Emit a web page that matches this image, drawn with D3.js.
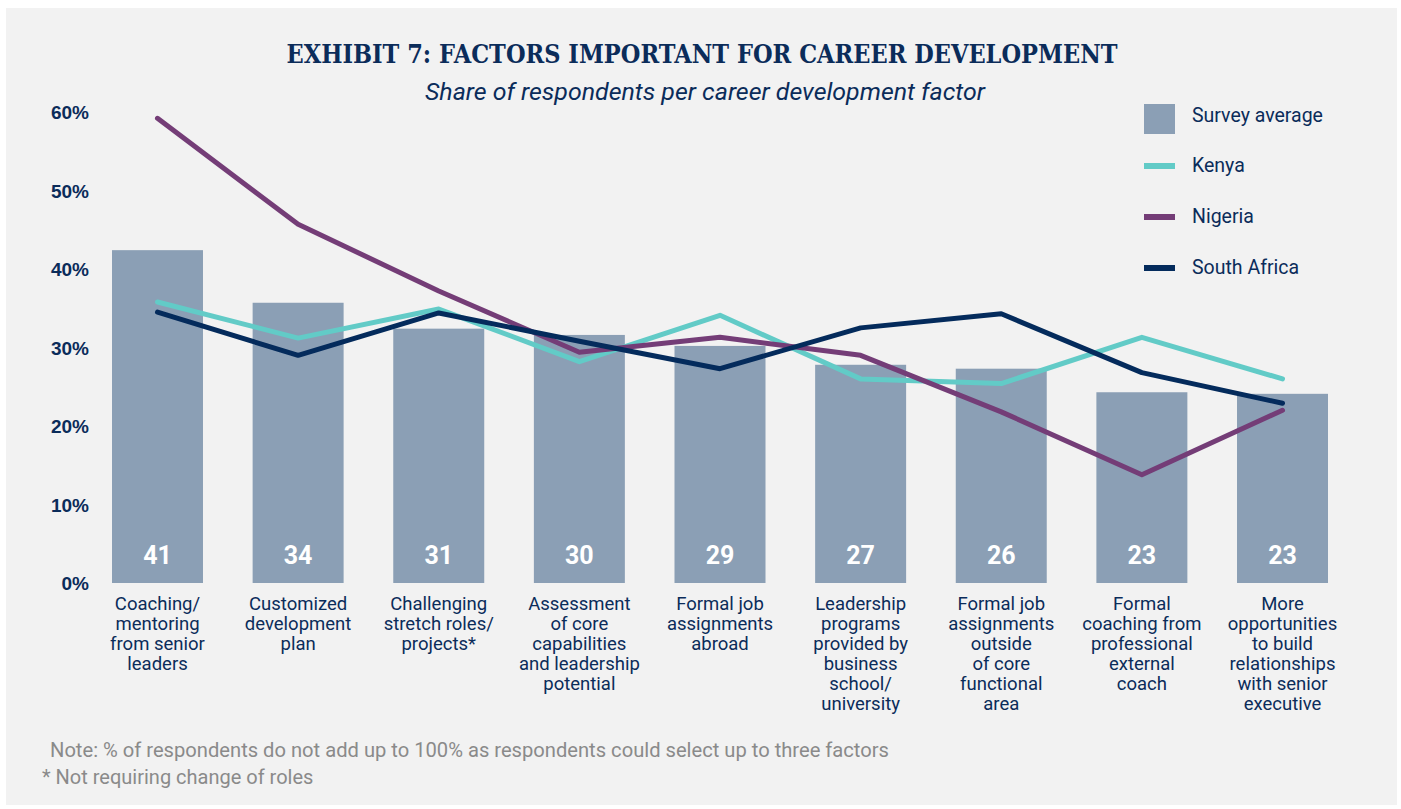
<!DOCTYPE html>
<html>
<head>
<meta charset="utf-8">
<script src="https://cdn.jsdelivr.net/npm/d3@7"></script>
<style>
  body { margin: 0; background: #fff; }
  svg { display: block; }
</style>
</head>
<body>
<svg id="chart"></svg>
<script>
// chart data
var categories = [
  ["Coaching/", "mentoring", "from senior", "leaders"],
  ["Customized", "development", "plan"],
  ["Challenging", "stretch roles/", "projects*"],
  ["Assessment", "of core", "capabilities", "and leadership", "potential"],
  ["Formal job", "assignments", "abroad"],
  ["Leadership", "programs", "provided by", "business", "school/", "university"],
  ["Formal job", "assignments", "outside", "of core", "functional", "area"],
  ["Formal", "coaching from", "professional", "external", "coach"],
  ["More", "opportunities", "to build", "relationships", "with senior", "executive"]
];
var surveyAvg = [42.4, 35.7, 32.4, 31.6, 30.2, 27.8, 27.3, 24.3, 24.1];
var surveyLabels = ["41", "34", "31", "30", "29", "27", "26", "23", "23"];
var kenya = [35.8, 31.2, 34.9, 28.2, 34.1, 26.0, 25.4, 31.3, 26.0];
var nigeria = [59.2, 45.7, 37.2, 29.4, 31.3, 29.0, 21.8, 13.8, 22.0];
var southAfrica = [34.5, 29.0, 34.4, 30.8, 27.3, 32.5, 34.3, 26.8, 22.9];
var yTicks = [0, 10, 20, 30, 40, 50, 60];

var W = 1401, H = 809;
var navy = "#0b2c5a";
var svg = d3.select("#chart").attr("width", W).attr("height", H);

// panel
svg.append("rect").attr("x", 6).attr("y", 8).attr("width", 1391).attr("height", 797).attr("fill", "#f2f2f2");

// titles
svg.append("text")
  .attr("x", 702).attr("y", 63)
  .attr("text-anchor", "middle")
  .attr("font-family", "DejaVu Serif")
  .attr("font-weight", "bold")
  .attr("font-size", 26)
  .attr("textLength", 831).attr("lengthAdjust", "spacingAndGlyphs")
  .attr("fill", navy)
  .text("EXHIBIT 7: FACTORS IMPORTANT FOR CAREER DEVELOPMENT");

svg.append("text")
  .attr("x", 705).attr("y", 100)
  .attr("text-anchor", "middle")
  .attr("font-family", "Roboto")
  .attr("font-style", "italic")
  .attr("font-size", 23.5)
  .attr("textLength", 560).attr("lengthAdjust", "spacingAndGlyphs")
  .attr("fill", navy)
  .text("Share of respondents per career development factor");

var idx = d3.range(categories.length);
var x = d3.scaleBand().domain(idx).range([112, 1328]).paddingInner(0.353).paddingOuter(0);
var y = d3.scaleLinear().domain([0, 60]).range([583, 112]);

// y tick labels
svg.append("g").selectAll("text").data(yTicks).join("text")
  .attr("x", 89).attr("y", d => y(d) + 7)
  .attr("text-anchor", "end")
  .attr("font-family", "Liberation Sans")
  .attr("font-weight", "bold")
  .attr("font-size", 19)
  .attr("fill", navy)
  .text(d => d + "%");

// bars
svg.append("g").selectAll("rect").data(surveyAvg).join("rect")
  .attr("x", (d, i) => x(i))
  .attr("y", d => y(d))
  .attr("width", x.bandwidth())
  .attr("height", d => y(0) - y(d))
  .attr("fill", "#8b9fb5");

svg.append("g").selectAll("text").data(surveyLabels).join("text")
  .attr("x", (d, i) => x(i) + x.bandwidth() / 2)
  .attr("y", 564)
  .attr("text-anchor", "middle")
  .attr("font-family", "Roboto")
  .attr("font-weight", "bold")
  .attr("font-size", 25)
  .attr("fill", "#fff")
  .text(d => d);

// category labels
var cat = svg.append("g").selectAll("text").data(categories).join("text")
  .attr("text-anchor", "middle")
  .attr("font-family", "Roboto")
  .attr("font-size", 18.5)
  .attr("fill", navy);
cat.each(function(lines, i) {
  d3.select(this).selectAll("tspan").data(lines).join("tspan")
    .attr("x", x(i) + x.bandwidth() / 2)
    .attr("y", (d, j) => 610 + j * 20)
    .text(d => d);
});

// lines
var line = d3.line()
  .x((d, i) => x(i) + x.bandwidth() / 2)
  .y(d => y(d));

var series = [
  {name: "Kenya", values: kenya, color: "#62cbc7"},
  {name: "Nigeria", values: nigeria, color: "#743d77"},
  {name: "South Africa", values: southAfrica, color: "#042b5c"}
];

svg.append("g").selectAll("path").data(series).join("path")
  .attr("d", d => line(d.values))
  .attr("fill", "none")
  .attr("stroke", d => d.color)
  .attr("stroke-width", 5)
  .attr("stroke-linecap", "round")
  .attr("stroke-linejoin", "round");

// legend
var leg = svg.append("g").attr("transform", "translate(1144,0)");
leg.append("rect").attr("x", 0).attr("y", 104).attr("width", 31).attr("height", 30).attr("fill", "#8b9fb5");
leg.append("text").attr("x", 48).attr("y", 122)
  .attr("font-family", "Roboto").attr("font-size", 19.5).attr("fill", navy)
  .text("Survey average");
series.forEach(function(s, i) {
  var yy = 166 + i * 51;
  leg.append("rect").attr("x", 0).attr("y", yy - 3).attr("width", 31).attr("height", 6).attr("fill", s.color);
  leg.append("text").attr("x", 48).attr("y", yy + 6)
    .attr("font-family", "Roboto").attr("font-size", 19.5).attr("fill", navy)
    .text(s.name);
});

// notes
svg.append("text").attr("x", 50).attr("y", 757)
  .attr("font-family", "Roboto").attr("font-size", 20).attr("fill", "#8a8a8a")
  .attr("textLength", 839).attr("lengthAdjust", "spacingAndGlyphs")
  .text("Note: % of respondents do not add up to 100% as respondents could select up to three factors");
svg.append("text").attr("x", 42).attr("y", 784)
  .attr("font-family", "Roboto").attr("font-size", 20).attr("fill", "#8a8a8a")
  .text("* Not requiring change of roles");
</script>
</body>
</html>
